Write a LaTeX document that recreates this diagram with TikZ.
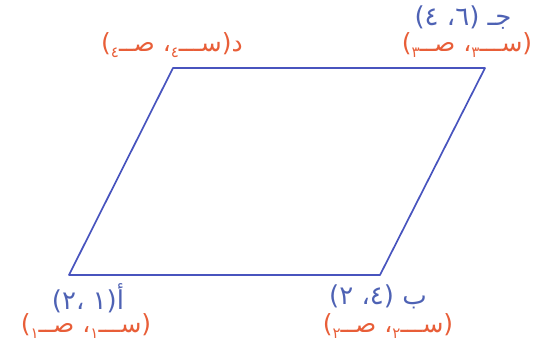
\documentclass[tikz,border=0pt]{standalone}
\usepackage{fontspec}
\usepackage{xcolor}
\newfontfamily\arabicfont[Script=Arabic]{DejaVu Sans}
\TeXXeTstate=1
\definecolor{lineblue}{RGB}{72,84,190}
\definecolor{ptblue}{RGB}{78,98,180}
\definecolor{symorange}{RGB}{232,94,56}
\newcommand{\subidx}[1]{\raisebox{-0.4ex}{\fontsize{15}{15}\selectfont #1}}
\tikzset{
  ptlabel/.style={text=ptblue, font=\arabicfont\fontsize{26}{28}\selectfont, inner sep=0pt},
  symlabel/.style={text=symorange, font=\arabicfont\fontsize{25}{28}\selectfont, inner sep=0pt}
}

\begin{document}
\begin{tikzpicture}[x=1pt,y=-1pt]
\useasboundingbox (0,0) rectangle (544,352);
\coordinate (a) at (69,275);
\coordinate (b) at (380,275);
\coordinate (c) at (485,68);
\coordinate (d) at (173,68);
\draw[lineblue, line width=1.7pt, line join=round] (a) -- (b) -- (c) -- (d) -- cycle;
\node[ptlabel] (alabel) at (88,298) {\beginR أ(١ ،٢)\endR};
\node[symlabel] (asym) at (86,326) {\beginR(ســـ\subidx{١}، صــ\subidx{١})\endR};
\node[ptlabel] (blabel) at (378,297) {\beginR ب (٤، ٢)\endR};
\node[symlabel] (bsym) at (388,326) {\beginR(ســـ\subidx{٢}، صــ\subidx{٢})\endR};
\node[ptlabel] (clabel) at (463,18) {\beginR جـ (٦، ٤)\endR};
\node[symlabel] (csym) at (467,45) {\beginR(ســـ\subidx{٣}، صــ\subidx{٣})\endR};
\node[symlabel] (dsym) at (172,45) {\beginR د(ســـ\subidx{٤}، صــ\subidx{٤})\endR};
\end{tikzpicture}
\end{document}
